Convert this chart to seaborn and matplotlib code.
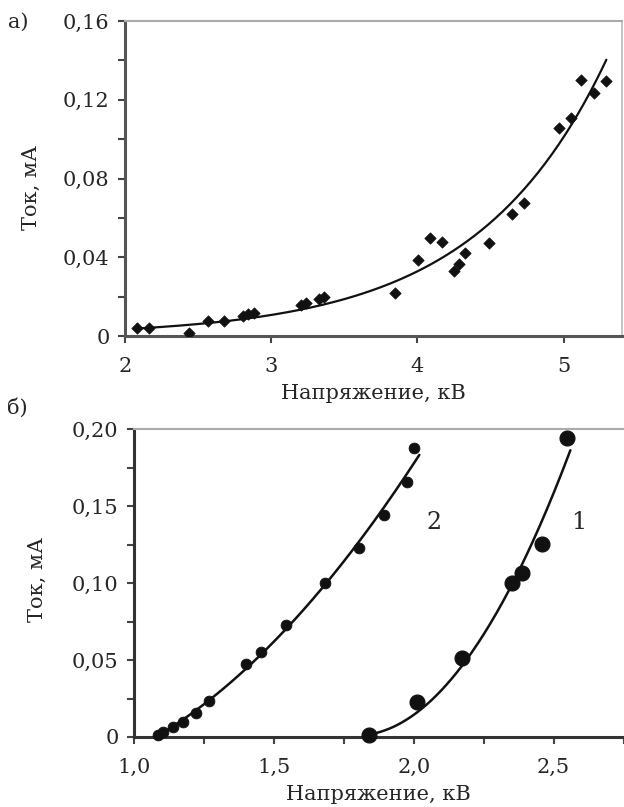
import numpy as np
import pandas as pd
import seaborn as sns
import matplotlib.pyplot as plt

# panel a) current vs voltage, scattered points + exponential trend
volt_a = [2.082, 2.162, 2.44, 2.565, 2.679, 2.805, 2.839, 2.884, 3.203, 3.237, 3.328, 3.362,
          3.846, 4.005, 4.085, 4.167, 4.251, 4.285, 4.326, 4.49, 4.65, 4.729,
          4.969, 5.053, 5.122, 5.208, 5.293]
curr_a = [0.0042, 0.0042, 0.0017, 0.0078, 0.0075, 0.0102, 0.011, 0.0115, 0.0157, 0.017, 0.0186, 0.020,
          0.022, 0.0386, 0.0496, 0.0479, 0.033, 0.0366, 0.0423, 0.0474, 0.062, 0.0674,
          0.1055, 0.1106, 0.130, 0.1233, 0.1297]

# panel b) two curves
volt_b1 = [1.839, 2.01, 2.173, 2.352, 2.388, 2.459, 2.549]
curr_b1 = [0.0013, 0.0229, 0.0511, 0.1002, 0.1067, 0.1253, 0.194]
volt_b2 = [1.087, 1.103, 1.139, 1.176, 1.222, 1.269, 1.401, 1.453, 1.543, 1.684, 1.806,
           1.892, 1.976, 2.0]
curr_b2 = [0.0013, 0.0034, 0.0063, 0.0099, 0.0154, 0.0236, 0.0474, 0.055, 0.0727, 0.0998, 0.1225,
           0.1442, 0.1658, 0.1875]

yticks_a = [0, 0.04, 0.08, 0.12, 0.16]
ytick_labels_a = ['0', '0,04', '0,08', '0,12', '0,16']
xticks_a = [2, 3, 4, 5]
xtick_labels_a = ['2', '3', '4', '5']
yticks_b = [0, 0.05, 0.10, 0.15, 0.20]
ytick_labels_b = ['0', '0,05', '0,10', '0,15', '0,20']
xticks_b = [1.0, 1.5, 2.0, 2.5]
xtick_labels_b = ['1,0', '1,5', '2,0', '2,5']

sns.set_style('white')
plt.rcParams['font.family'] = ['DejaVu Serif', 'Liberation Serif']
plt.rcParams['font.size'] = 15

fig = plt.figure(figsize=(6.24, 8.07), dpi=100)
W, H = 624, 807
ax1 = fig.add_axes([125 / W, 1 - 336 / H, (622 - 125) / W, (336 - 21) / H])
ax2 = fig.add_axes([134 / W, 1 - 737 / H, (623.5 - 134) / W, (737 - 429) / H])

# --- panel a
df_a = pd.DataFrame({'U': volt_a, 'I': curr_a})
k, b = np.polyfit(df_a['U'], np.log(df_a['I']), 1)
xs = np.linspace(min(volt_a), max(volt_a), 200)
fit_a = pd.DataFrame({'U': xs, 'I': np.exp(b + k * xs)})
sns.lineplot(data=fit_a, x='U', y='I', ax=ax1, color='#111111', lw=1.6)
sns.scatterplot(data=df_a, x='U', y='I', ax=ax1, marker='D', s=34, color='#111111',
                edgecolor='#111111', zorder=3)
ax1.set_xlim(2, 5.40)
ax1.set_ylim(0, 0.16)
ax1.set_xticks(xticks_a, xtick_labels_a)
ax1.set_yticks(yticks_a, ytick_labels_a)
ax1.set_yticks([0.02, 0.06, 0.10, 0.14], minor=True)

# --- panel b
def poly_curve(x, y, deg, lo, hi, w=None):
    c = np.polyfit(x, y, deg, w=w)
    xx = np.linspace(lo, hi, 200)
    return pd.DataFrame({'U': xx, 'I': np.polyval(c, xx)})

# first point weighted so the curve starts from it, as in the original
fit_b1 = poly_curve(volt_b1, curr_b1, 2, 1.839, 2.56, w=[4, 1, 1, 1, 1, 1, 1])
fit_b2 = poly_curve(volt_b2, curr_b2, 2, 1.087, 2.02)
sns.lineplot(data=fit_b1, x='U', y='I', ax=ax2, color='#111111', lw=1.8)
sns.lineplot(data=fit_b2, x='U', y='I', ax=ax2, color='#111111', lw=1.8)
sns.scatterplot(x=volt_b1, y=curr_b1, ax=ax2, s=115, color='#111111', edgecolor='#111111',
                zorder=3, clip_on=False)
sns.scatterplot(x=volt_b2, y=curr_b2, ax=ax2, s=60, color='#111111', edgecolor='#111111',
                zorder=3, clip_on=False)
ax2.text(2.074, 0.139, '2', ha='center', va='center', fontsize=17)
ax2.text(2.589, 0.139, '1', ha='center', va='center', fontsize=17)
ax2.set_xlim(1.0, 2.75)
ax2.set_ylim(0, 0.20)
ax2.set_xticks(xticks_b, xtick_labels_b)
ax2.set_xticks([1.25, 1.75, 2.25, 2.75], minor=True)
ax2.set_yticks(yticks_b, ytick_labels_b)
ax2.set_yticks([0.025, 0.075, 0.125, 0.175], minor=True)

for ax in (ax1, ax2):
    ax.set_xlabel('Напряжение, кВ', labelpad=6)
    ax.set_ylabel('Ток, мА')
    ax.tick_params(which='both', direction='out', length=5, width=1.5, color='#444444',
                   left=True, bottom=True)
    ax.tick_params(axis='x', pad=10)
    ax.tick_params(axis='y', pad=6)
    ax.spines['left'].set_color('#555555')
    ax.spines['left'].set_linewidth(2.2)
    ax.spines['bottom'].set_color('#555555')
    ax.spines['bottom'].set_linewidth(2.2)
    ax.spines['top'].set_color('#aaaaaa')
    ax.spines['top'].set_linewidth(1.5)

ax1.spines['right'].set_color('#bbbbbb')
ax1.spines['right'].set_linewidth(1.2)
ax2.spines['right'].set_visible(False)
ax2.spines['bottom'].set_color('#333333')
ax2.spines['left'].set_color('#333333')

ax1.yaxis.set_label_coords(-0.17, 0.47)
ax2.yaxis.set_label_coords(-0.178, 0.51)

fig.text(8 / W, 1 - 28 / H, 'а)', ha='left', va='baseline')
fig.text(7 / W, 1 - 414 / H, 'б)', ha='left', va='baseline')

fig.savefig('out.png', dpi=100)
